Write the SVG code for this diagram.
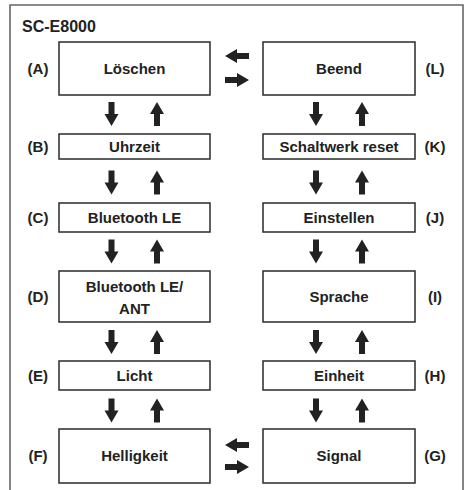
<svg xmlns="http://www.w3.org/2000/svg" xmlns:xlink="http://www.w3.org/1999/xlink" width="468" height="490" viewBox="0 0 468 490">
<style>
  .frame{fill:none;stroke:#666;stroke-width:1.6}
  .box{fill:#fff;stroke:#2a2a2a;stroke-width:1.5}
  .t{font-family:"Liberation Sans",Arial,sans-serif;font-weight:bold;font-size:15px;fill:#222;text-anchor:middle}
  .lbl{font-family:"Liberation Sans",Arial,sans-serif;font-weight:bold;font-size:15px;fill:#222;text-anchor:middle}
  .title{font-family:"Liberation Sans",Arial,sans-serif;font-weight:bold;font-size:16px;fill:#222}
  .arr{fill:#222}
</style>
<defs>
  <path id="ad" class="arr" d="M-3,-12 H3 V0 H7 L0,12 L-7,0 H-3 Z"/>
</defs>
<rect width="468" height="490" fill="#fff"/>
<path class="frame" d="M10,490 V5 H463 V490"/>
<text class="title" x="22" y="32">SC-E8000</text>

<g id="A"><rect class="box" x="59" y="42" width="151" height="53"/><text class="t" x="134.5" y="74">Löschen</text><text class="lbl" x="38" y="74">(A)</text></g>
<g id="B"><rect class="box" x="59" y="134" width="151" height="25"/><text class="t" x="134.5" y="152">Uhrzeit</text><text class="lbl" x="38" y="152">(B)</text></g>
<g id="C"><rect class="box" x="59" y="203" width="151" height="29"/><text class="t" x="134.5" y="223">Bluetooth LE</text><text class="lbl" x="38" y="223">(C)</text></g>
<g id="D"><rect class="box" x="59" y="271" width="151" height="51"/><text class="t" x="134.5" y="292">Bluetooth LE/</text><text class="t" x="134.5" y="314">ANT</text><text class="lbl" x="38" y="302">(D)</text></g>
<g id="E"><rect class="box" x="59" y="361" width="151" height="29"/><text class="t" x="134.5" y="381">Licht</text><text class="lbl" x="38" y="381">(E)</text></g>
<g id="F"><rect class="box" x="59" y="429" width="151" height="54"/><text class="t" x="134.5" y="461">Helligkeit</text><text class="lbl" x="38" y="461">(F)</text></g>

<g id="L"><rect class="box" x="263" y="42" width="152" height="53"/><text class="t" x="339" y="74">Beend</text><text class="lbl" x="435" y="74">(L)</text></g>
<g id="K"><rect class="box" x="263" y="134" width="152" height="25"/><text class="t" x="339" y="152">Schaltwerk reset</text><text class="lbl" x="435" y="152">(K)</text></g>
<g id="J"><rect class="box" x="263" y="203" width="152" height="29"/><text class="t" x="339" y="223">Einstellen</text><text class="lbl" x="435" y="223">(J)</text></g>
<g id="I"><rect class="box" x="263" y="271" width="152" height="51"/><text class="t" x="339" y="302">Sprache</text><text class="lbl" x="435" y="302">(I)</text></g>
<g id="H"><rect class="box" x="263" y="361" width="152" height="29"/><text class="t" x="339" y="381">Einheit</text><text class="lbl" x="435" y="381">(H)</text></g>
<g id="G"><rect class="box" x="263" y="429" width="152" height="54"/><text class="t" x="339" y="461">Signal</text><text class="lbl" x="435" y="461">(G)</text></g>

<g id="connectors">
  <use xlink:href="#ad" transform="translate(111.5,114)"/>
  <use xlink:href="#ad" transform="translate(157,114) rotate(180)"/>
  <use xlink:href="#ad" transform="translate(111.5,182.5)"/>
  <use xlink:href="#ad" transform="translate(157,182.5) rotate(180)"/>
  <use xlink:href="#ad" transform="translate(111.5,251.5)"/>
  <use xlink:href="#ad" transform="translate(157,251.5) rotate(180)"/>
  <use xlink:href="#ad" transform="translate(111.5,342)"/>
  <use xlink:href="#ad" transform="translate(157,342) rotate(180)"/>
  <use xlink:href="#ad" transform="translate(111.5,410.5)"/>
  <use xlink:href="#ad" transform="translate(157,410.5) rotate(180)"/>

  <use xlink:href="#ad" transform="translate(316,114)"/>
  <use xlink:href="#ad" transform="translate(362,114) rotate(180)"/>
  <use xlink:href="#ad" transform="translate(316,182.5)"/>
  <use xlink:href="#ad" transform="translate(362,182.5) rotate(180)"/>
  <use xlink:href="#ad" transform="translate(316,251.5)"/>
  <use xlink:href="#ad" transform="translate(362,251.5) rotate(180)"/>
  <use xlink:href="#ad" transform="translate(316,342)"/>
  <use xlink:href="#ad" transform="translate(362,342) rotate(180)"/>
  <use xlink:href="#ad" transform="translate(316,410.5)"/>
  <use xlink:href="#ad" transform="translate(362,410.5) rotate(180)"/>

  <use xlink:href="#ad" transform="translate(237,56) rotate(90)"/>
  <use xlink:href="#ad" transform="translate(237,80) rotate(-90)"/>
  <use xlink:href="#ad" transform="translate(237,445) rotate(90)"/>
  <use xlink:href="#ad" transform="translate(237,467) rotate(-90)"/>
</g>
</svg>
